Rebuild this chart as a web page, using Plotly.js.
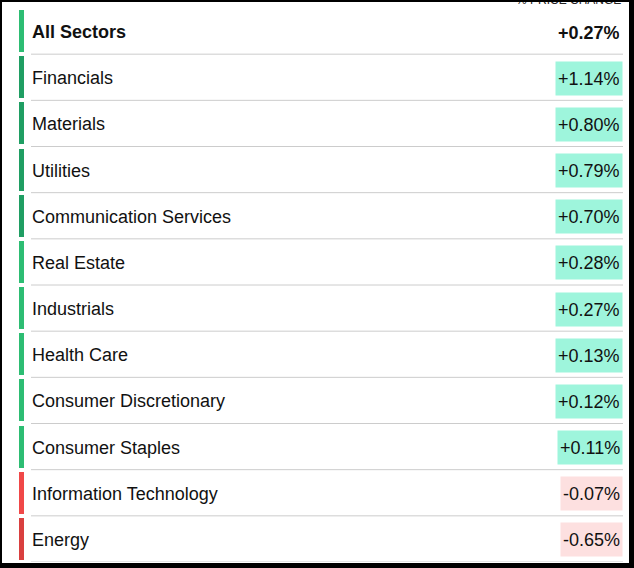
<!DOCTYPE html>
<html>
<head>
<meta charset="utf-8">
<script src="https://cdn.plot.ly/plotly-3.0.1.min.js"></script>
<style>
  html, body { margin: 0; padding: 0; background: #000; width: 634px; height: 568px; overflow: hidden; }
  #chart { position: absolute; left: 2px; top: 2px; width: 627px; height: 561px; background: #fff; }
</style>
</head>
<body>
<div id="chart"></div>
<script>
// ---- data ----
const sectors = [
  "All Sectors", "Financials", "Materials", "Utilities", "Communication Services",
  "Real Estate", "Industrials", "Health Care", "Consumer Discretionary",
  "Consumer Staples", "Information Technology", "Energy"
];
const priceChange = [0.27, 1.14, 0.80, 0.79, 0.70, 0.28, 0.27, 0.13, 0.12, 0.11, -0.07, -0.65];
const headerText = "% PRICE CHANGE";

// ---- styling helpers ----
const FONT = "Liberation Sans, Arial, Helvetica, sans-serif";
function barColor(v) {
  if (v >= 0) return Math.abs(v) >= 0.5 ? "#1f9e63" : "#2dbd73";
  return Math.abs(v) >= 0.5 ? "#d9403f" : "#f04848";
}
function fmt(v) {
  return (v >= 0 ? "+" : "-") + Math.abs(v).toFixed(2) + "%";
}

const barTrace = {
  type: "bar",
  orientation: "h",
  y: sectors,
  x: sectors.map(() => 5),
  base: 17,
  width: 0.913,
  marker: { color: priceChange.map(barColor), line: { width: 0 } },
  hoverinfo: "skip",
  showlegend: false
};

const annotations = [];
sectors.forEach((s, i) => {
  const isTotal = i === 0;
  annotations.push({
    xref: "x", yref: "y", x: 29, y: s,
    xanchor: "left", yanchor: "middle", yshift: -1,
    text: isTotal ? "<b>" + s + "</b>" : s,
    showarrow: false, borderpad: 0,
    font: { family: FONT, size: 18, color: "#111111" }
  });
  const v = priceChange[i];
  annotations.push({
    xref: "x", yref: "y", x: 621, y: s,
    xanchor: "right", yanchor: "middle", yshift: -1,
    text: isTotal ? "<b>" + fmt(v) + "</b>" : fmt(v),
    showarrow: false,
    borderpad: 2,
    height: 29,
    bgcolor: isTotal ? "rgba(0,0,0,0)" : (v >= 0 ? "#9ef5dc" : "#fde0e0"),
    font: { family: FONT, size: 18, color: "#111111" }
  });
});
annotations.push({
  xref: "x", yref: "paper", x: 620, y: 1,
  xanchor: "right", yanchor: "bottom",
  text: headerText, showarrow: false, borderpad: 0,
  font: { family: FONT, size: 12, color: "#222222" }
});

const shapes = sectors.map((s, i) => ({
  type: "line", xref: "x", yref: "y",
  x0: 29, x1: 621, y0: i + 0.5, y1: i + 0.5,
  line: { color: "#cccccc", width: 1 }
}));

const layout = {
  width: 627, height: 561,
  margin: { l: 0, r: 0, t: 6, b: 1, pad: 0 },
  paper_bgcolor: "#ffffff", plot_bgcolor: "#ffffff",
  xaxis: { range: [0, 627], visible: false, fixedrange: true },
  yaxis: {
    type: "category", categoryorder: "array", categoryarray: sectors,
    range: [11.5, -0.5], visible: false, fixedrange: true
  },
  bargap: 0,
  annotations: annotations,
  shapes: shapes,
  showlegend: false
};

Plotly.newPlot("chart", [barTrace], layout, { staticPlot: true, displayModeBar: false });
</script>
</body>
</html>
